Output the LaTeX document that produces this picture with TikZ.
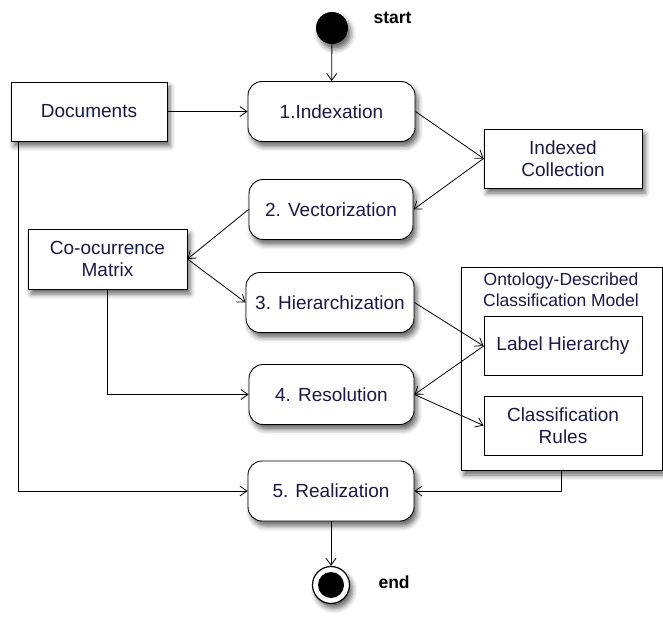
\documentclass[tikz,border=0pt]{standalone}
\usepackage{fontspec}
\setmainfont{Liberation Sans}
\usetikzlibrary{arrows.meta,shadows.blur}
\definecolor{txt}{RGB}{25,25,70}
\begin{document}
\begin{tikzpicture}[x=1pt,y=-1pt,
  shd/.style={blur shadow={shadow xshift=3pt,shadow yshift=-5pt,shadow blur radius=5pt,shadow opacity=60}},
  act/.style={draw,line width=0.9pt,fill=white,rounded corners=14pt,minimum width=166pt,minimum height=60pt,
     font=\fontsize{19}{22}\selectfont,text=txt,shd,align=center},
  obj/.style={draw,line width=0.9pt,fill=white,minimum width=158pt,minimum height=59pt,
     font=\fontsize{19}{22}\selectfont,text=txt,shd,align=center},
  sub/.style={draw,line width=0.8pt,fill=white,minimum width=158pt,minimum height=59pt,
     font=\fontsize{19}{22}\selectfont,text=txt,align=center},
  arr/.style={line width=0.8pt,-{Straight Barb[length=7pt,width=10pt,line width=0.8pt]}},
  lbl/.style={font=\bfseries\fontsize{17.5}{20}\selectfont,text=black}]
\useasboundingbox (0,0) rectangle (663,617);
% container
\node[draw,line width=0.9pt,fill=white,minimum width=201pt,minimum height=203pt,shd] (cont) at (561.5,368.5) {};
\node[font=\fontsize{17.5}{21}\selectfont,text=txt,align=center] (ctitle) at (561,290) {Ontology-Described\\Classification Model};
\node[sub] (lh) at (563,346) {Label Hierarchy};
\node[sub] (cr) at (563,425.5) {Classification\\Rules};
% start / end
\node[circle,fill=black,minimum size=32pt,inner sep=0pt,shd] (start) at (332,28) {};
\node[lbl,anchor=west] (startl) at (370,18) {start};
\node[circle,draw=black,line width=1.2pt,fill=white,minimum size=37pt,inner sep=0pt,shd] (end) at (331,585) {};
\node[circle,fill=black,minimum size=26pt,inner sep=0pt] (endin) at (331,585) {};
\node[lbl,anchor=west] (endl) at (375,582) {end};
% activities
\node[act,minimum width=167pt] (ix) at (331.5,111.5) {1.Indexation};
\node[act,minimum width=164pt] (vec) at (331,209.5) {2. Vectorization};
\node[act,minimum width=168pt] (hier) at (330,302.5) {3. Hierarchization};
\node[act,minimum width=165pt] (res) at (331.5,394.5) {4. Resolution};
\node[act,minimum width=166pt] (real) at (331,491) {5. Realization};
% objects
\node[obj,minimum width=156pt] (doc) at (89,111.5) {Documents};
\node[obj] (ic) at (563,158.5) {Indexed\\Collection};
\node[obj,minimum width=159pt,minimum height=60pt] (co) at (107.5,259) {Co-ocurrence\\Matrix};
% connectors
\draw[arr] (start) -- (ix);
\draw[arr] (doc) -- (ix);
\draw[arr] (ix.east) -- (ic.west);
\draw[arr] (ic.west) -- (vec.east);
\draw[arr] (vec.west) -- (co.east);
\draw[arr] (co.east) -- (hier.west);
\draw[arr] (co.south) |- (res.west);
\draw[arr] (hier.east) -- (lh.west);
\draw[arr] (lh.west) -- (res.east);
\draw[arr] (res.east) -- (cr.west);
\coordinate (dstart) at ([xshift=8pt]doc.south west);
\draw[arr] (dstart) |- (real.west);
\draw[arr] (cont.south) |- (real.east);
\draw[arr] (real) -- (end);
\end{tikzpicture}
\end{document}
